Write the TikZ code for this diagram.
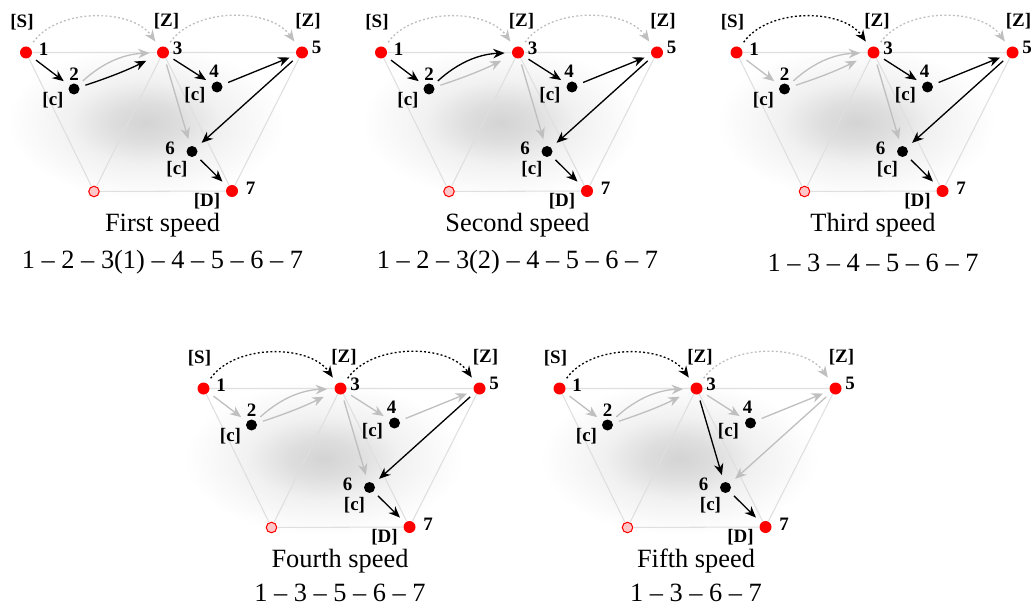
\documentclass[tikz,border=0pt]{standalone}
\usepackage{fontspec}
\setmainfont{Liberation Serif}
\usetikzlibrary{arrows.meta}

\pgfdeclareradialshading{glow}{\pgfpoint{0bp}{0bp}}{%
  color(0bp)=(gray!34); color(6bp)=(gray!26); color(13bp)=(gray!11);
  color(24bp)=(white); color(50bp)=(white)}

\tikzset{
  e12/.style=dim, e23a/.style=dim, e23b/.style=dim, e34/.style=dim,
  e45/.style=dim, e56/.style=dim, e36/.style=dim, e67/.style=lit,
  j13/.style=dim, j35/.style=dim, lower/.style={},
  light/.style={#1/.style=lit}}

% one speed: prefix, shift, lit edges, title, route
\newcommand\speedpanel[5]{%
\begin{scope}[shift={#2},#3]
  \shade[shading=glow] (2.4,-1.4) ellipse (2.9 and 1.6);
  \node[reddot] (#1-1) at (0,0) {};
  \node[blackdot] (#1-2) at (0.96,-0.73) {};
  \node[reddot] (#1-3) at (2.74,0) {};
  \node[blackdot] (#1-4) at (3.82,-0.69) {};
  \node[reddot] (#1-5) at (5.52,0) {};
  \node[blackdot] (#1-6) at (3.32,-1.98) {};
  \node[reddot] (#1-7) at (4.12,-2.77) {};
  \node[ghost] (#1-g) at (1.36,-2.78) {};
  \draw[frame] (#1-1) -- (#1-3) -- (#1-5) -- (#1-7) -- (#1-g) -- (#1-1);
  \draw[frame] (#1-g) -- (#1-3) -- (#1-7);
  \node[lab] (#1-t1) at (0.35,0.07) {1};
  \node[lab] (#1-s) at (-0.08,0.61) {[S]};
  \node[lab] (#1-t3) at (3.03,0.08) {3};
  \node[lab] (#1-z3) at (2.81,0.63) {[Z]};
  \node[lab] (#1-t5) at (5.81,0.11) {5};
  \node[lab] (#1-z5) at (5.64,0.63) {[Z]};
  \node[lab] (#1-t2) at (0.96,-0.43) {2};
  \node[lab] (#1-c2) at (0.54,-0.95) {[c]};
  \node[lab] (#1-t4) at (3.76,-0.37) {4};
  \node[lab] (#1-c4) at (3.38,-0.85) {[c]};
  \node[lab] (#1-t6) at (2.88,-1.92) {6};
  \node[lab] (#1-c6) at (3.02,-2.34) {[c]};
  \node[lab] (#1-t7) at (4.49,-2.72) {7};
  \node[lab] (#1-d) at (3.62,-2.97) {[D]};
  \draw[e12] (#1-1) -- (#1-2);
  \draw[e23b] (#1-2) to[bend left=20] (#1-3);
  \draw[e23a,shorten >=7pt] (#1-2) to[bend right=4] (#1-3);
  \draw[e36] (#1-3) -- (#1-6);
  \draw[e34] (#1-3) -- (#1-4);
  \draw[e45] (#1-4) -- (#1-5);
  \draw[e56] (#1-5) -- (#1-6);
  \draw[e67] (#1-6) -- (#1-7);
  \draw[hop,j13] (#1-1) to[out=55,in=125,looseness=0.95] (#1-3);
  \draw[hop,j35] (#1-3) to[out=55,in=125,looseness=0.95] (#1-5);
  \node[title] (#1-name) at (2.73,-3.46) {#4};
  \node[title,lower] (#1-route) at (2.73,-4.2) {#5};
\end{scope}}

\begin{document}
\begin{tikzpicture}[x=1cm,y=1cm,>={Stealth[length=6.5pt,width=5.4pt]},
  reddot/.style={circle,fill=red,inner sep=0pt,minimum size=0.24cm},
  blackdot/.style={circle,fill=black,inner sep=0pt,minimum size=0.22cm},
  ghost/.style={circle,fill=red!22,draw=red,line width=0.6pt,inner sep=0pt,minimum size=0.21cm},
  frame/.style={gray!25,line width=0.6pt},
  lab/.style={font=\fontsize{10.8}{12}\selectfont\bfseries,inner sep=0pt},
  title/.style={font=\fontsize{15}{18}\selectfont,inner sep=0pt},
  dim/.style={->,gray!50,line width=0.75pt,shorten <=3.5pt,shorten >=4pt},
  lit/.style={->,black,line width=0.75pt,shorten <=3.5pt,shorten >=4pt},
  hop/.style={dash pattern=on 1.1pt off 1.3pt,shorten <=1pt,shorten >=3.5pt}]
  \useasboundingbox (0,0) rectangle (20.7,-12.16);

  \speedpanel{A}{(0.52,-1.05)}{light/.list={e12,e23a,e34,e45,e56}}
    {First speed}{1 – 2 – 3(1) – 4 – 5 – 6 – 7}
  \speedpanel{B}{(7.62,-1.05)}{light/.list={e12,e23b,e34,e45,e56}}
    {Second speed}{1 – 2 – 3(2) – 4 – 5 – 6 – 7}
  \speedpanel{C}{(14.73,-1.05)}{light/.list={j13,e34,e45,e56}}
    {Third speed}{1 – 3 – 4 – 5 – 6 – 7}
  \speedpanel{D}{(4.07,-7.77)}{light/.list={j13,j35,e56},lower/.style={yshift=3pt}}
    {Fourth speed}{1 – 3 – 5 – 6 – 7}
  \speedpanel{E}{(11.19,-7.77)}{light/.list={j13,e36},lower/.style={yshift=3pt}}
    {Fifth speed}{1 – 3 – 6 – 7}
\end{tikzpicture}
\end{document}
